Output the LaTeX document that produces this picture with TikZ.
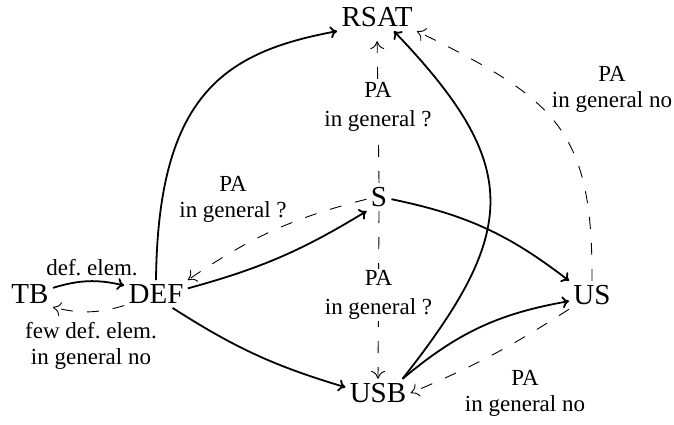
\documentclass[tikz,border=0pt]{standalone}
\usepackage{fontspec}
\setmainfont{Liberation Serif}
\usetikzlibrary{arrows.meta}
\begin{document}
\begin{tikzpicture}[x=0.5pt,y=0.5pt,
  state/.style={inner sep=2pt, font=\fontsize{14.5}{17}\selectfont},
  lab/.style={align=center, inner sep=1pt, font=\fontsize{11.5}{13}\selectfont},
  vlab/.style={lab, fill=white, inner sep=0.5pt, font=\fontsize{11.5}{14.5}\selectfont},
  solidedge/.style={line width=0.9pt, -{To[length=3.5pt,width=6pt]}},
  dashedge/.style={line width=0.45pt, dash pattern=on 6pt off 7pt, -{To[length=4pt,width=7pt]}},
]
\useasboundingbox (0,0) rectangle (674,424);

\node[state] (RSAT) at (377,407) {RSAT};
\node[state] (S)    at (379,227) {S};
\node[state] (TB)   at (30,130)  {TB};
\node[state] (DEF)  at (156,130) {DEF};
\node[state] (US)   at (592,129) {US};
\node[state] (USB)  at (378,31)  {USB};

% TB <-> DEF
\draw[solidedge] (TB.15) to[bend left=15] (DEF.165);
\draw[dashedge] (DEF.200) to[bend left=15] (TB.-30);
\node[lab] (l1) at (92,156) {def.\ elem.};
\node[lab] (l2) at (91,78) {few def.\ elem.\\in general no};

% DEF -> RSAT
\draw[solidedge] (DEF.north) .. controls (158,330) and (225,372) .. (RSAT.south west);
% DEF -> S and S -> DEF
\draw[solidedge] (DEF.10) to[bend right=8] (S.south west);
\draw[dashedge] (S.190) to[bend right=10] (DEF.north east);
\node[lab] (l3) at (233,225) {PA\\in general ?};
% DEF -> USB
\draw[solidedge] (DEF.-40) to[bend right=8] (USB.170);

% S -> USB, S -> RSAT
\draw[dashedge] (S.south) -- node[vlab] (l4) {PA\\in general ?} (USB.north);
\draw[dashedge, shorten >=5pt] (S.north) -- node[vlab] (l5) {PA\\in general ?} (RSAT.south);

% S -> US
\draw[solidedge] (S.-10) to[bend left=13] (US.north west);
% USB -> RSAT, USB -> US
\draw[solidedge] (USB.30) .. controls (519,193) and (523,258) .. (RSAT.-40);
\draw[solidedge] (USB.30) to[bend left=15] (US.195);
% US -> USB
\draw[dashedge] (US.south west) to[bend left=5] (USB.east);
\node[lab] (l6) at (525,31) {PA\\in general no};
% US -> RSAT
\draw[dashedge] (US.north) .. controls (593,296) and (555,325) .. (RSAT.south east);
\node[lab] (l7) at (612,335) {PA\\in general no};
\end{tikzpicture}
\end{document}
